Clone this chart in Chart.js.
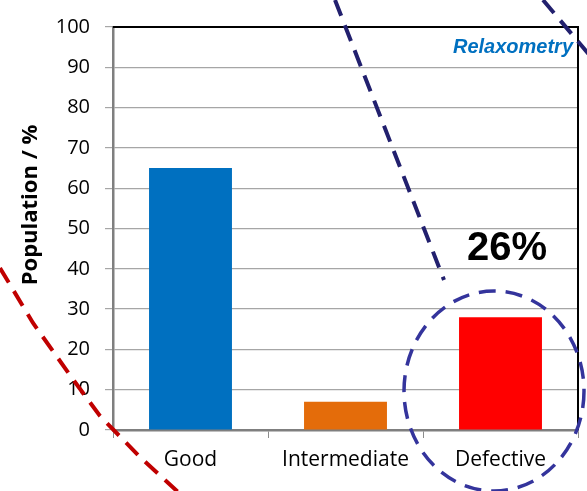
<!DOCTYPE html>
<html>
<head>
<meta charset="utf-8">
<script src="https://cdn.jsdelivr.net/npm/chart.js@4/dist/chart.umd.min.js"></script>
<style>
  html, body { margin: 0; padding: 0; background: #ffffff; }
  #wrap { width: 587px; height: 491px; position: relative; }
</style>
</head>
<body>
<div id="wrap"><canvas id="chart"></canvas></div>
<script>
// Population share per quality class
const categories = ['Good', 'Intermediate', 'Defective'];
const population = [65, 7, 28];
const barColors = ['#0070C0', '#E46C0A', '#FF0000'];

// Value axis
const yMin = 0;
const yMax = 100;
const yStep = 10;

// Text drawn on the chart
const yTitle = 'Population / %';
const methodLabel = 'Relaxometry';
const calloutLabel = '26%';

// Frame, labels and hand-drawn dashed highlights on top of the chart
const overlay = {
  id: 'overlay',
  afterDraw(chart) {
    const { ctx, chartArea: a } = chart;
    ctx.save();

    // black top and right frame
    ctx.strokeStyle = '#000000';
    ctx.lineWidth = 2;
    ctx.setLineDash([]);
    ctx.beginPath();
    ctx.moveTo(a.left, a.top);
    ctx.lineTo(a.right, a.top);
    ctx.lineTo(a.right, a.bottom);
    ctx.stroke();

    // rotated axis title
    ctx.save();
    ctx.translate(31, 205);
    ctx.rotate(-Math.PI / 2);
    ctx.fillStyle = '#000000';
    ctx.font = 'bold 22px "Open Sans"';
    ctx.textAlign = 'center';
    ctx.textBaseline = 'middle';
    ctx.fillText(yTitle, 0, 0);
    ctx.restore();

    // method label, top right
    ctx.fillStyle = '#0070C0';
    ctx.font = 'italic bold 20px "Liberation Sans"';
    ctx.textAlign = 'right';
    ctx.textBaseline = 'alphabetic';
    ctx.fillText(methodLabel, a.right - 5, 53);

    // callout
    ctx.fillStyle = '#000000';
    ctx.font = 'bold 40px "Liberation Sans"';
    ctx.textAlign = 'center';
    ctx.fillText(calloutLabel, 507, 260);

    ctx.lineCap = 'butt';

    // navy dashed pointer lines
    ctx.strokeStyle = '#22206E';
    ctx.lineWidth = 4;
    ctx.setLineDash([17, 10]);
    ctx.beginPath();
    ctx.moveTo(335, 0);
    ctx.lineTo(444, 280);
    ctx.stroke();
    ctx.beginPath();
    ctx.moveTo(543, 0);
    ctx.lineTo(592, 58);
    ctx.stroke();

    // dashed ellipse around the last bar
    ctx.strokeStyle = '#34349C';
    ctx.lineWidth = 3.5;
    ctx.setLineDash([17, 10]);
    ctx.beginPath();
    ctx.ellipse(494, 391, 90, 100, 0, 0, Math.PI * 2);
    ctx.stroke();

    // red dashed curve, lower left
    ctx.strokeStyle = '#C00000';
    ctx.lineWidth = 4;
    ctx.setLineDash([17, 10]);
    ctx.beginPath();
    ctx.moveTo(0, 268);
    ctx.lineTo(33, 323);
    ctx.lineTo(72, 378);
    ctx.lineTo(100, 416);
    ctx.lineTo(140, 457);
    ctx.lineTo(178, 492);
    ctx.stroke();

    ctx.restore();
  }
};

new Chart(document.getElementById('chart'), {
  type: 'bar',
  data: {
    labels: categories,
    datasets: [{
      data: population,
      backgroundColor: barColors,
      borderWidth: 0,
      categoryPercentage: 1.0,
      barPercentage: 0.535
    }]
  },
  options: {
    responsive: true,
    maintainAspectRatio: false,
    devicePixelRatio: 1,
    animation: false,
    layout: { padding: { top: 23, right: 9, left: 0, bottom: 0 } },
    plugins: {
      legend: { display: false },
      tooltip: { enabled: false },
      title: { display: false }
    },
    scales: {
      x: {
        grid: {
          offset: true,
          drawOnChartArea: false,
          drawTicks: true,
          tickLength: 8,
          color: '#8C8C8C',
          lineWidth: 1
        },
        border: { display: true, color: '#7F7F7F', width: 2.5 },
        ticks: {
          color: '#000000',
          font: { family: 'Open Sans', size: 21 },
          padding: 9,
          maxRotation: 0
        },
        afterFit(scale) { scale.height = 61; }
      },
      y: {
        min: yMin,
        max: yMax,
        grid: {
          color: '#A6A6A6',
          lineWidth: 1.2,
          drawTicks: true,
          tickLength: 8
        },
        border: { display: true, color: '#7F7F7F', width: 2.5 },
        ticks: {
          stepSize: yStep,
          color: '#000000',
          font: { family: 'Open Sans', size: 20 },
          padding: 15
        },
        afterFit(scale) { scale.width = 113; }
      }
    }
  },
  plugins: [overlay]
});
</script>
</body>
</html>
